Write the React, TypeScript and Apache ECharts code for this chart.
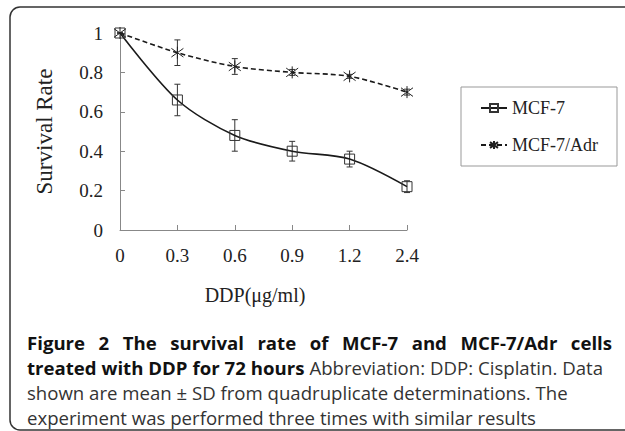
import React, { useEffect, useRef } from "react";
import * as echarts from "echarts";

const categories = ["0", "0.3", "0.6", "0.9", "1.2", "2.4"];
const mcf7 = [1, 0.66, 0.48, 0.4, 0.36, 0.22];
const mcf7Err = [0, 0.08, 0.08, 0.05, 0.04, 0.03];
const adr = [1, 0.9, 0.83, 0.8, 0.78, 0.7];
const adrErr = [0, 0.065, 0.04, 0.015, 0.01, 0.015];
const yTicks = { min: 0, max: 1, interval: 0.2 };

const captionLine1 = [{ text: "Figure 2 The survival rate of MCF-7 and MCF-7/Adr cells", bold: true }];
const captionLine2 = [
  { text: "treated with DDP for 72 hours", bold: true },
  { text: "Abbreviation: DDP: Cisplatin. Data", bold: false },
];
const captionLine3 = "shown are mean \u00b1 SD from quadruplicate determinations. The";
const captionLine4 = "experiment was performed three times with similar results";

const SERIF = "'Liberation Serif', 'Times New Roman', serif";
const SANS = "'Open Sans', 'Noto Sans', sans-serif";
const CAP_SIZE = 18.6;

function justify(segs: { text: string; bold: boolean }[], x0: number, x1: number, y: number) {
  const canvas = document.createElement("canvas");
  const ctx = canvas.getContext("2d")!;
  const words: { w: string; bold: boolean; width: number }[] = [];
  segs.forEach((s) => {
    s.text.split(" ").forEach((w) => {
      ctx.font = `${s.bold ? "bold " : ""}${CAP_SIZE}px ${SANS}`;
      words.push({ w, bold: s.bold, width: ctx.measureText(w).width });
    });
  });
  const total = words.reduce((a, b) => a + b.width, 0);
  const gap = (x1 - x0 - total) / (words.length - 1);
  let x = x0;
  return words.map((wd) => {
    const el = {
      type: "text",
      x,
      y,
      style: {
        text: wd.w,
        fontFamily: SANS,
        fontSize: CAP_SIZE,
        fontWeight: wd.bold ? "bold" : "normal",
        fill: wd.bold ? "#111" : "#333",
        verticalAlign: "middle",
        align: "left",
      },
    };
    x += wd.width + gap;
    return el;
  });
}

const asterisk = "path://M5 0 L5 10 M1.4 1.4 L8.6 8.6 M1.4 8.6 L8.6 1.4";

function errorSeries(values: number[], errs: number[]) {
  return {
    type: "custom",
    data: values.map((v, i) => [i, v - errs[i], v + errs[i]]),
    z: 1,
    renderItem: (params: any, api: any) => {
      const i = api.value(0);
      const lo = api.coord([i, api.value(1)]);
      const hi = api.coord([i, api.value(2)]);
      const hw = 3;
      const st = { stroke: "#333", lineWidth: 1 };
      return {
        type: "group",
        children: [
          { type: "line", shape: { x1: lo[0], y1: lo[1], x2: hi[0], y2: hi[1] }, style: st },
          { type: "line", shape: { x1: lo[0] - hw, y1: lo[1], x2: lo[0] + hw, y2: lo[1] }, style: st },
          { type: "line", shape: { x1: hi[0] - hw, y1: hi[1], x2: hi[0] + hw, y2: hi[1] }, style: st },
        ],
      };
    },
    silent: true,
  };
}

export default function App() {
  const ref = useRef<HTMLDivElement>(null);
  useEffect(() => {
    const chart = echarts.init(ref.current!, null, { renderer: "svg" });
    const capY = 342;
    const capStep = 25.3;
    chart.setOption({
      animation: false,
      backgroundColor: "#fff",
      grid: { left: 120, top: 33, right: 218, bottom: 201 },
      legend: {
        data: ["MCF-7", "MCF-7/Adr"],
        orient: "vertical",
        left: 461,
        top: 87,
        padding: [12, 19, 12, 19],
        itemGap: 19,
        itemWidth: 26,
        itemHeight: 10,
        borderColor: "#999",
        borderWidth: 1,
        textStyle: { fontFamily: SERIF, fontSize: 18, color: "#222" },
      },
      xAxis: {
        type: "category",
        data: categories,
        boundaryGap: false,
        axisLine: { lineStyle: { color: "#888", width: 1 } },
        axisTick: { inside: true, length: 5, lineStyle: { color: "#888" } },
        axisLabel: { fontFamily: SERIF, fontSize: 19, color: "#222", margin: 16 },
      },
      yAxis: {
        type: "value",
        min: yTicks.min,
        max: yTicks.max,
        interval: yTicks.interval,
        name: "Survival Rate",
        nameLocation: "middle",
        nameGap: 64,
        nameTextStyle: { fontFamily: SERIF, fontSize: 23, color: "#222" },
        splitLine: { show: false },
        axisLine: { show: true, lineStyle: { color: "#888", width: 1 } },
        axisTick: { show: true, inside: true, length: 5, lineStyle: { color: "#888" } },
        axisLabel: { fontFamily: SERIF, fontSize: 19, color: "#222", margin: 17 },
      },
      series: [
        errorSeries(mcf7, mcf7Err),
        errorSeries(adr, adrErr),
        {
          name: "MCF-7",
          type: "line",
          data: mcf7,
          smooth: 0.3,
          symbol: "rect",
          symbolSize: 10,
          z: 3,
          lineStyle: { color: "#1a1a1a", width: 1.6 },
          itemStyle: { color: "rgba(255,255,255,0)", borderColor: "#333", borderWidth: 1 },
        },
        {
          name: "MCF-7/Adr",
          type: "line",
          data: adr,
          smooth: 0.3,
          symbol: asterisk,
          symbolSize: 12,
          z: 3,
          lineStyle: { color: "#1a1a1a", width: 1.6, type: [5, 3] },
          itemStyle: { color: "#222", borderColor: "#222", borderWidth: 1 },
        },
      ],
      graphic: [
        {
          type: "rect",
          shape: { x: 10, y: 7, width: 700, height: 423, r: 10 },
          style: { fill: "none", stroke: "#333", lineWidth: 1.5 },
          z: -1,
        },
        {
          type: "text",
          x: 255,
          y: 295,
          style: {
            text: "DDP(\u03bcg/ml)",
            fontFamily: SERIF,
            fontSize: 20,
            fill: "#222",
            align: "center",
            verticalAlign: "middle",
          },
        },
        ...justify(captionLine1, 27, 612, capY),
        ...justify(captionLine2, 27, 603, capY + capStep),
        {
          type: "text",
          x: 27,
          y: capY + capStep * 2,
          style: { text: captionLine3, fontFamily: SANS, fontSize: CAP_SIZE, fill: "#333", verticalAlign: "middle" },
        },
        {
          type: "text",
          x: 27,
          y: capY + capStep * 3,
          style: { text: captionLine4, fontFamily: SANS, fontSize: CAP_SIZE, fill: "#333", verticalAlign: "middle" },
        },
      ],
    });
    return () => chart.dispose();
  }, []);
  return <div ref={ref} style={{ width: 625, height: 431, position: "absolute", left: 0, top: 0 }} />;
}
